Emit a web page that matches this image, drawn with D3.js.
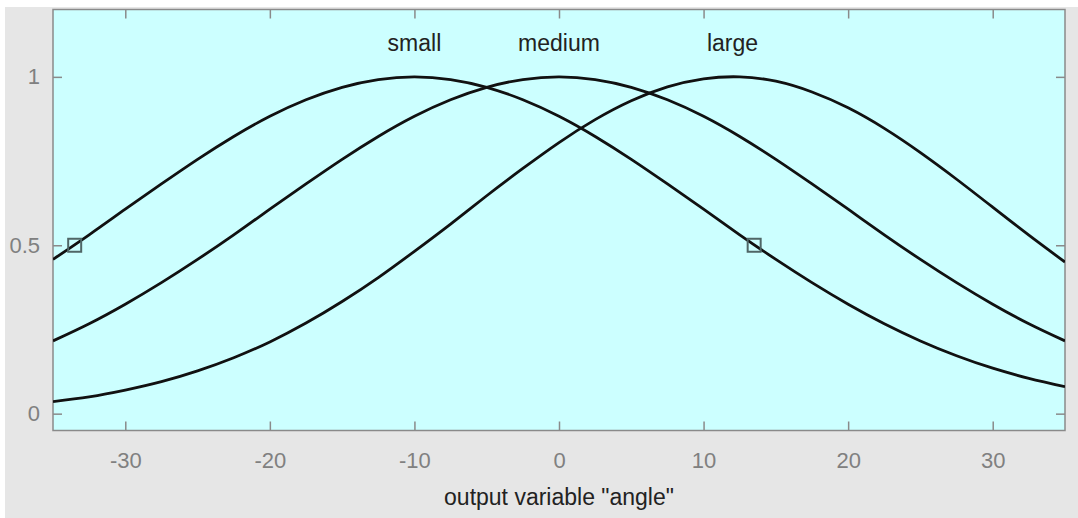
<!DOCTYPE html>
<html>
<head>
<meta charset="utf-8">
<script src="https://cdn.jsdelivr.net/npm/d3@7"></script>
<style>
  html, body { margin: 0; padding: 0; background: #ffffff; }
  svg { display: block; }
  text { font-family: "Liberation Sans", Arial, Helvetica, sans-serif; }
</style>
</head>
<body>
<svg id="chart" width="1078" height="518"></svg>
<script>
// Sample positions along the output variable "angle"
const xs = [-35, -32.5, -30, -27.5, -25, -22.5, -20, -17.5, -15, -12.5, -10, -7.5, -5, -2.5,
            0, 2.5, 5, 7.5, 10, 12.5, 15, 17.5, 20, 22.5, 25, 27.5, 30, 32.5, 35];

// Membership degrees for each fuzzy set
const small = [0.458, 0.531, 0.607, 0.682, 0.755, 0.823, 0.883, 0.932, 0.969, 0.992, 1.000, 0.992, 0.969, 0.932,
               0.883, 0.823, 0.755, 0.682, 0.607, 0.531, 0.458, 0.389, 0.325, 0.267, 0.216, 0.172, 0.135, 0.105, 0.080];
const medium = [0.216, 0.267, 0.325, 0.389, 0.458, 0.531, 0.607, 0.682, 0.755, 0.823, 0.883, 0.932, 0.969, 0.992,
                1.000, 0.992, 0.969, 0.932, 0.883, 0.823, 0.755, 0.682, 0.607, 0.531, 0.458, 0.389, 0.325, 0.267, 0.216];
const large = [0.036, 0.050, 0.070, 0.095, 0.127, 0.166, 0.213, 0.269, 0.333, 0.404, 0.482, 0.563, 0.647, 0.728,
               0.805, 0.873, 0.929, 0.970, 0.994, 1.000, 0.987, 0.955, 0.908, 0.847, 0.775, 0.696, 0.613, 0.530, 0.450];

const setNames = ["small", "medium", "large"];
const setCenters = [-10, 0, 12];
const setLabelY = [1.1, 1.1, 1.1];

// Half-height markers of the selected set
const markerX = [-33.5, 13.5];
const markerY = [0.5, 0.5];

const xTicks = [-30, -20, -10, 0, 10, 20, 30];
const xTickLabels = ["-30", "-20", "-10", "0", "10", "20", "30"];
const yTicks = [0, 0.5, 1];
const yTickLabels = ["0", "0.5", "1"];
const xLabel = 'output variable "angle"';

const svg = d3.select("#chart");
const W = 1078, H = 518;
const plot = { left: 53, top: 9.5, right: 1065, bottom: 430.5 };

// figure background
svg.append("rect").attr("x", 5).attr("y", 7).attr("width", W - 5).attr("height", H - 7)
  .attr("fill", "#e6e6e6");

const x = d3.scaleLinear().domain([-35, 35]).range([plot.left, plot.right]);
const y = d3.scaleLinear().domain([-0.05, 1.2]).range([plot.bottom, plot.top]);

// axes area
svg.append("rect")
  .attr("x", plot.left).attr("y", plot.top)
  .attr("width", plot.right - plot.left).attr("height", plot.bottom - plot.top)
  .attr("fill", "#ccffff");

const axisColor = "#8a8a8a";
const tickLen = 9;

function styleAxis(g) {
  g.select(".domain").remove();
  g.selectAll(".tick line").attr("stroke", axisColor).attr("stroke-width", 1.5);
  g.selectAll(".tick text").attr("fill", "#808080").style("font-size", "22px");
}

// bottom and top x axes (ticks pointing inward)
svg.append("g").attr("transform", `translate(0,${plot.bottom})`)
  .call(d3.axisBottom(x).tickValues(xTicks).tickSize(-tickLen).tickPadding(22)
    .tickFormat((d, i) => xTickLabels[i]))
  .call(styleAxis)
  .call(g => g.selectAll(".tick text").attr("dy", "0.71em"));
svg.append("g").attr("transform", `translate(0,${plot.top})`)
  .call(d3.axisTop(x).tickValues(xTicks).tickSize(-tickLen).tickFormat(""))
  .call(styleAxis);

// left and right y axes
svg.append("g").attr("transform", `translate(${plot.left},0)`)
  .call(d3.axisLeft(y).tickValues(yTicks).tickSize(-tickLen).tickPadding(13)
    .tickFormat((d, i) => yTickLabels[i]))
  .call(styleAxis);
svg.append("g").attr("transform", `translate(${plot.right},0)`)
  .call(d3.axisRight(y).tickValues(yTicks).tickSize(-tickLen).tickFormat(""))
  .call(styleAxis);

// axes box
svg.append("rect")
  .attr("x", plot.left).attr("y", plot.top)
  .attr("width", plot.right - plot.left).attr("height", plot.bottom - plot.top)
  .attr("fill", "none").attr("stroke", axisColor).attr("stroke-width", 1.5);

// membership curves
const line = d3.line()
  .x(d => x(d[0])).y(d => y(d[1]))
  .curve(d3.curveNatural);

svg.append("clipPath").attr("id", "plotclip")
  .append("rect").attr("x", plot.left).attr("y", plot.top)
  .attr("width", plot.right - plot.left).attr("height", plot.bottom - plot.top);

const curves = svg.append("g").attr("clip-path", "url(#plotclip)");
[small, medium, large].forEach(vals => {
  curves.append("path")
    .datum(xs.map((v, i) => [v, vals[i]]))
    .attr("d", line)
    .attr("fill", "none")
    .attr("stroke", "#111111")
    .attr("stroke-width", 2.8);
});

// set names above each peak
svg.append("g").selectAll("text")
  .data(setNames)
  .join("text")
  .attr("x", (d, i) => x(setCenters[i]))
  .attr("y", (d, i) => y(setLabelY[i]))
  .attr("text-anchor", "middle")
  .attr("dy", "0.35em")
  .attr("fill", "#222222")
  .style("font-size", "23px")
  .text(d => d);

// square markers
const ms = 13;
svg.append("g").selectAll("rect")
  .data(markerX)
  .join("rect")
  .attr("x", (d, i) => x(d) - ms / 2)
  .attr("y", (d, i) => y(markerY[i]) - ms / 2)
  .attr("width", ms).attr("height", ms)
  .attr("fill", "none")
  .attr("stroke", "#4f6666")
  .attr("stroke-width", 2);

// x axis label
svg.append("text")
  .attr("x", (plot.left + plot.right) / 2)
  .attr("y", 497)
  .attr("dy", "0.35em")
  .attr("text-anchor", "middle")
  .attr("fill", "#222222")
  .style("font-size", "23px")
  .text(xLabel);
</script>
</body>
</html>
